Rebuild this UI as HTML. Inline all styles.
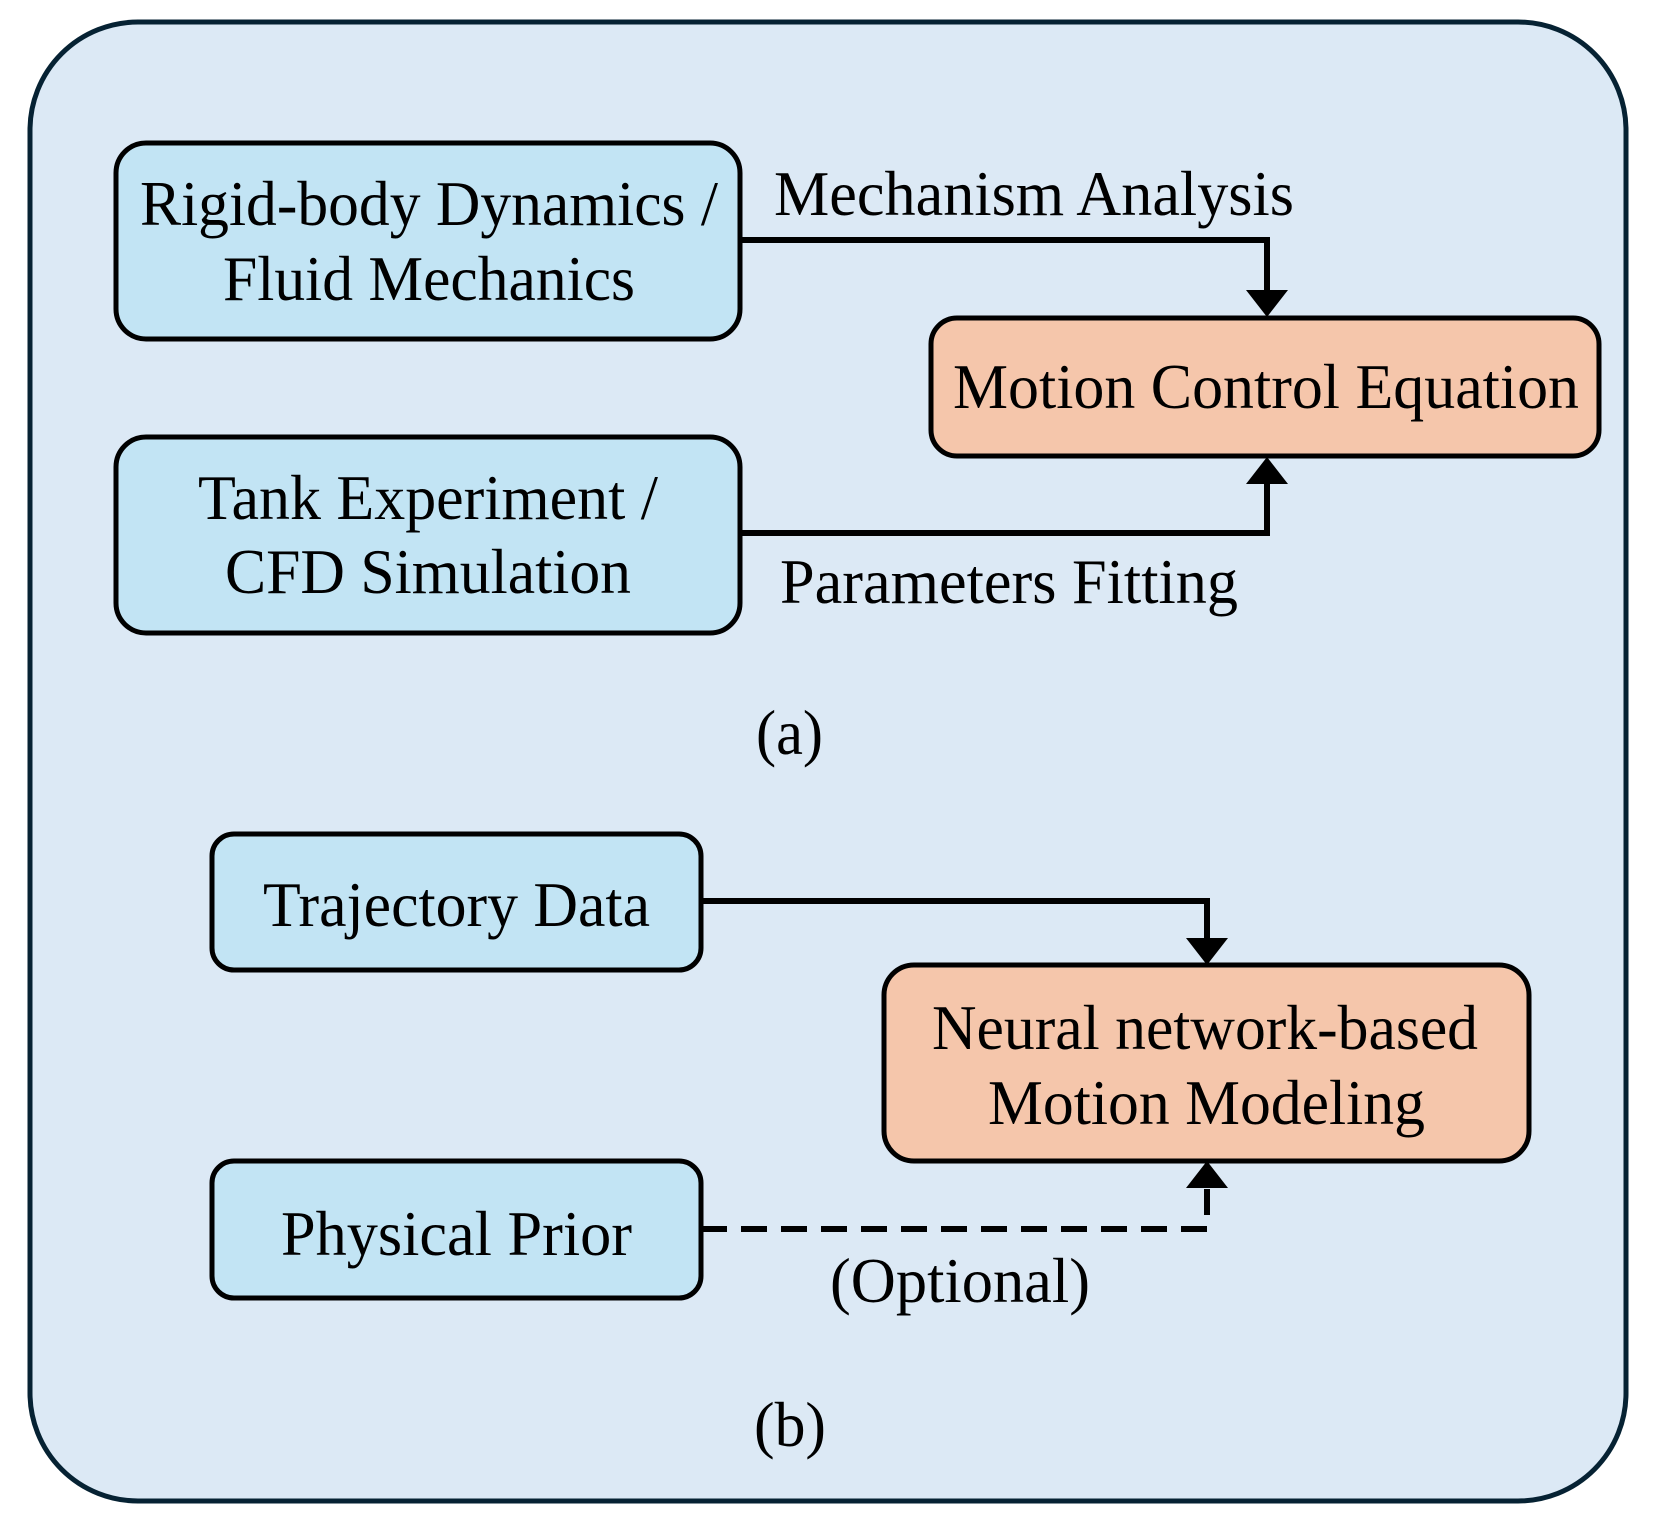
<!DOCTYPE html>
<html><head><meta charset="utf-8"><style>body{margin:0;background:#fff}svg{display:block}</style></head><body>
<svg width="1659" height="1540" viewBox="0 0 1659 1540" xmlns="http://www.w3.org/2000/svg" font-family="'Liberation Serif', serif" font-size="64" fill="#000">
<rect x="30" y="22" width="1596" height="1479" rx="108" fill="#dce9f5" stroke="#062233" stroke-width="5"/>
<g stroke="#000" stroke-width="5">
<rect x="116" y="143" width="624" height="196" rx="30" fill="#c2e4f4"/>
<rect x="116" y="437" width="624" height="196" rx="30" fill="#c2e4f4"/>
<rect x="931" y="318" width="668" height="138" rx="26" fill="#f5c6ab"/>
<rect x="212" y="834" width="489" height="136" rx="22" fill="#c2e4f4"/>
<rect x="884" y="965" width="645" height="196" rx="30" fill="#f5c6ab"/>
<rect x="212" y="1161" width="489" height="137" rx="22" fill="#c2e4f4"/>
<polyline points="740,240 1267,240 1267,292" fill="none" stroke-width="6"/>
<polyline points="740,533 1267,533 1267,482" fill="none" stroke-width="6"/>
<polyline points="701,901 1207,901 1207,940" fill="none" stroke-width="6"/>
<polyline points="701,1229 1207,1229 1207,1186" fill="none" stroke-width="6" stroke-dasharray="26,14"/>
</g>
<polygon points="1246,290 1288,290 1267,317"/>
<polygon points="1246,484 1288,484 1267,457"/>
<polygon points="1186,938 1228,938 1207,965"/>
<polygon points="1186,1188 1228,1188 1207,1161"/>
<text x="140" y="225" textLength="578" lengthAdjust="spacingAndGlyphs">Rigid-body Dynamics /</text>
<text x="223" y="300" textLength="412" lengthAdjust="spacingAndGlyphs">Fluid Mechanics</text>
<text x="198" y="519" textLength="460" lengthAdjust="spacingAndGlyphs">Tank Experiment /</text>
<text x="225" y="593" textLength="406" lengthAdjust="spacingAndGlyphs">CFD Simulation</text>
<text x="953" y="408" textLength="626" lengthAdjust="spacingAndGlyphs">Motion Control Equation</text>
<text x="774" y="215" textLength="520" lengthAdjust="spacingAndGlyphs">Mechanism Analysis</text>
<text x="780" y="603" textLength="458" lengthAdjust="spacingAndGlyphs">Parameters Fitting</text>
<text x="756" y="754" textLength="67" lengthAdjust="spacingAndGlyphs">(a)</text>
<text x="263" y="926" textLength="387" lengthAdjust="spacingAndGlyphs">Trajectory Data</text>
<text x="932" y="1049" textLength="546" lengthAdjust="spacingAndGlyphs">Neural network-based</text>
<text x="988" y="1124" textLength="437" lengthAdjust="spacingAndGlyphs">Motion Modeling</text>
<text x="281" y="1255" textLength="351" lengthAdjust="spacingAndGlyphs">Physical Prior</text>
<text x="830" y="1302" textLength="260" lengthAdjust="spacingAndGlyphs">(Optional)</text>
<text x="754" y="1446" textLength="72" lengthAdjust="spacingAndGlyphs">(b)</text>
</svg>
</body></html>
